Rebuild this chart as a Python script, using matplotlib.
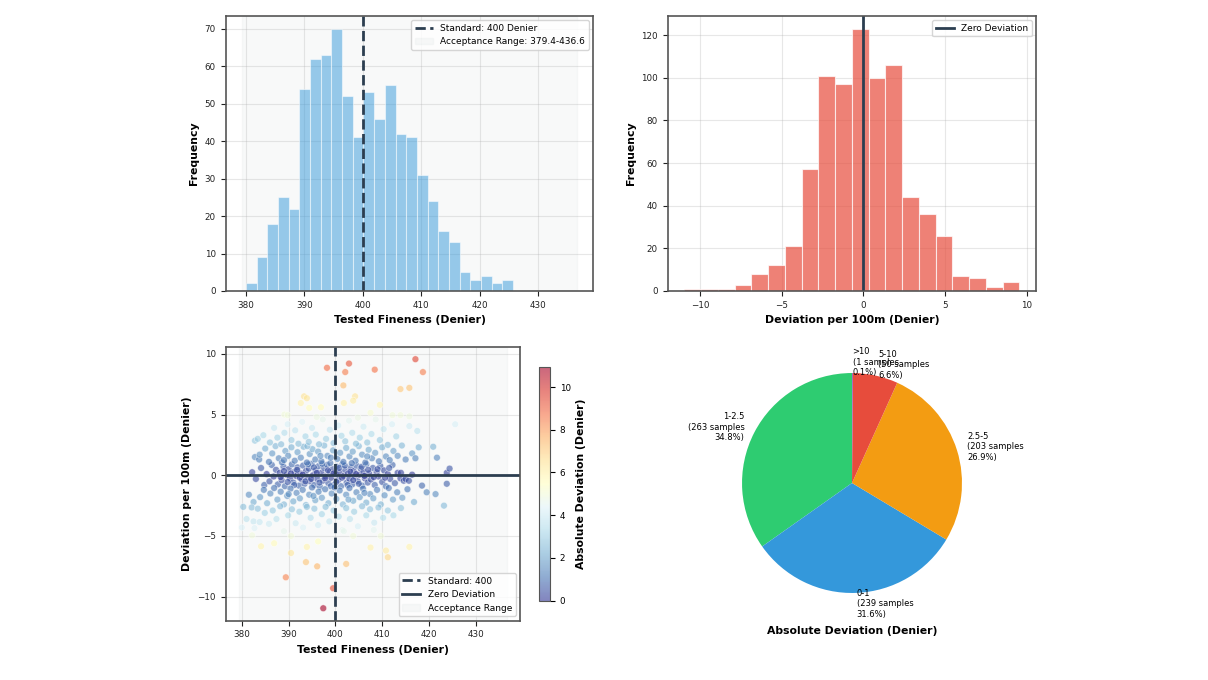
import numpy as np
import matplotlib
matplotlib.use("Agg")
import matplotlib.pyplot as plt

# ---- data ----
STANDARD = 400
ACCEPT_LO, ACCEPT_HI = 379.4, 436.6

# tested fineness histogram (25 bins)
fineness_lo, fineness_hi = 380.0, 425.75
fineness_counts = [2, 9, 18, 25, 22, 54, 62, 63, 70, 52, 41, 53, 46, 55, 42,
                   41, 31, 24, 16, 13, 5, 3, 4, 2, 3]

# deviation per 100m histogram (20 bins)
dev_lo, dev_hi = -10.95, 9.55
dev_counts = [1, 1, 1, 3, 8, 12, 21, 57, 101, 97, 123, 100, 106, 44, 36,
              26, 7, 6, 2, 4]

# absolute deviation categories (value_counts order)
abs_labels = ["1-2.5", "0-1", "2.5-5", "5-10", ">10"]
abs_counts = [263, 239, 203, 50, 1]
abs_colors = ["#2ecc71", "#3498db", "#f39c12", "#e74c3c", "#9b59b6"]

# scatter: tested fineness vs deviation
core_pts = [
    (382.2, 0.25), (383.0, -0.3), (384.1, 0.6), (384.8, -0.8), (385.3, 0.1), (385.9, -0.5),
    (386.4, 0.85), (386.8, -0.1), (387.3, 0.45), (387.7, -0.75), (388.1, 0.2), (388.5, -0.4),
    (388.9, 0.7), (389.2, -0.9), (389.6, 0.05), (390.0, 0.5), (390.3, -0.25), (390.7, 0.9),
    (391.0, -0.6), (391.3, 0.3), (391.6, -0.05), (391.9, 0.65), (392.2, -0.85), (392.5, 0.15),
    (392.8, -0.35), (393.1, 0.8), (393.4, -0.7), (393.7, 0.35), (394.0, -0.15), (394.3, 0.55),
    (394.6, -0.5), (394.9, 0.95), (395.2, 0.0), (395.5, -0.8), (395.8, 0.4), (396.1, -0.3),
    (396.4, 0.75), (396.7, -0.95), (397.0, 0.2), (397.3, -0.45), (397.6, 0.6), (397.9, -0.1),
    (398.2, 0.85), (398.5, -0.65), (398.8, 0.3), (399.1, -0.2), (399.4, 0.5), (399.7, -0.8),
    (400.0, 0.1), (400.3, 0.7), (400.6, -0.4), (400.9, 0.25), (401.2, -0.9), (401.5, 0.9),
    (401.8, -0.05), (402.1, 0.45), (402.4, -0.6), (402.7, 0.15), (403.0, -0.3), (403.3, 0.65),
    (403.6, -0.75), (403.9, 0.35), (404.2, -0.1), (404.5, 0.8), (404.8, -0.5), (405.1, 0.05),
    (405.4, 0.55), (405.7, -0.85), (406.0, 0.3), (406.3, -0.25), (406.6, 0.9), (406.9, -0.6),
    (407.2, 0.15), (407.6, -0.35), (408.0, 0.6), (408.4, -0.8), (408.8, 0.25), (409.2, -0.1),
    (409.6, 0.75), (410.0, -0.55), (410.4, 0.4), (410.8, -0.9), (411.2, 0.1), (411.7, -0.3),
    (412.2, 0.85), (412.7, -0.65), (413.3, 0.2), (414.0, 0.2), (413.9, -0.25), (414.6, -0.45),
    (415.0, -0.3), (415.7, -0.45), (416.4, 0.05), (418.5, -0.85), (423.8, 0.2), (424.4, 0.55),
    (423.8, -0.7), (388.3, -0.15), (389.0, 0.35), (389.8, -0.55), (390.5, 0.15), (391.2, -0.8),
    (391.8, 0.45), (392.4, -0.2), (393.0, 0.05), (393.6, -0.5), (394.2, 0.9), (394.8, -0.3),
    (395.4, 0.65), (396.0, 0.2), (396.6, -0.6), (397.2, 0.95), (397.8, -0.25), (398.4, 0.4),
    (399.0, -0.9), (399.6, 0.15), (400.2, -0.55), (400.8, 0.6), (401.4, -0.2), (402.0, 0.8),
    (402.6, -0.8), (403.2, 0.3), (403.8, -0.4), (404.4, 0.1), (405.0, -0.7), (405.6, 0.7),
    (406.2, -0.05), (407.0, 0.45), (408.2, -0.15), (409.0, 0.5), (410.6, -0.2), (411.5, 0.6),
]
mid_pts = [
    (382.8, 1.5), (383.7, 1.3), (383.8, 1.7), (385.0, 2.2), (385.8, 1.1), (386.5, 1.8),
    (387.2, 2.4), (387.9, 1.4), (388.6, 1.05), (389.3, 2.0), (389.9, 1.6), (390.6, 2.3),
    (391.3, 1.2), (391.9, 1.9), (392.6, 1.45), (393.2, 2.35), (393.9, 1.05), (394.5, 1.75),
    (395.1, 2.15), (395.7, 1.3), (396.3, 1.95), (397.0, 1.15), (397.6, 2.45), (398.3, 1.6),
    (398.9, 1.0), (399.5, 2.05), (400.4, 1.35), (401.0, 1.85), (401.7, 1.1), (402.3, 2.25),
    (403.0, 1.55), (403.7, 1.95), (404.3, 1.2), (405.0, 2.4), (405.7, 1.7), (406.4, 1.05),
    (407.1, 2.1), (407.8, 1.4), (408.5, 1.85), (409.3, 1.15), (410.0, 2.3), (410.8, 1.55),
    (411.6, 1.25), (412.4, 2.0), (413.3, 1.6), (414.2, 2.45), (415.0, 1.3), (416.4, 1.8),
    (417.1, 1.4), (417.8, 2.3), (420.9, 2.35), (421.7, 1.45), (389.0, 1.25), (394.0, 2.4),
    (399.0, 1.45), (403.5, 1.0), (406.8, 1.55), (396.8, 1.6),
    (381.5, -1.6), (382.5, -2.2), (383.9, -1.8), (384.7, -1.2), (385.4, -2.3), (386.1, -1.5),
    (386.9, -1.05), (387.6, -2.0), (388.3, -1.35), (389.0, -2.4), (389.7, -1.7), (390.4, -1.1),
    (391.0, -2.15), (391.7, -1.45), (392.4, -1.9), (393.0, -1.2), (393.7, -2.45), (394.4, -1.6),
    (395.0, -1.0), (395.7, -2.05), (396.4, -1.35), (397.1, -1.85), (397.8, -1.15), (398.5, -2.3),
    (399.2, -1.5), (400.2, -1.95), (400.9, -1.25), (401.6, -2.4), (402.3, -1.6), (403.0, -1.05),
    (403.8, -2.1), (404.5, -1.4), (405.2, -1.8), (405.9, -1.1), (406.6, -2.25), (407.4, -1.55),
    (408.1, -1.9), (408.9, -1.2), (409.7, -2.4), (410.5, -1.65), (411.4, -1.05), (412.3, -2.0),
    (413.2, -1.4), (414.3, -1.85), (415.4, -1.15), (416.8, -2.2), (419.5, -1.4), (421.4, -1.55),
    (390.0, -1.55), (395.3, -1.7), (399.8, -1.0), (402.8, -2.0), (406.2, -1.45),
]
outer_pts = [
    (382.8, 2.85), (383.4, 3.0), (384.6, 3.3), (386.0, 2.7), (386.9, 3.9), (387.6, 3.1),
    (388.4, 2.55), (389.1, 3.5), (389.8, 4.2), (390.6, 2.9), (391.4, 3.7), (392.1, 2.6),
    (392.9, 4.4), (393.6, 3.2), (394.3, 2.75), (395.0, 3.9), (395.8, 3.35), (396.5, 2.55),
    (397.3, 4.6), (398.0, 3.0), (398.8, 3.75), (399.6, 2.65), (400.6, 4.1), (401.3, 3.25),
    (402.1, 2.8), (402.9, 4.5), (403.6, 3.5), (404.4, 2.6), (405.2, 3.1), (406.0, 4.0),
    (406.8, 2.7), (407.7, 3.4), (408.6, 4.6), (409.5, 2.9), (410.3, 3.8), (411.2, 2.5),
    (412.1, 4.2), (413.0, 3.2), (413.9, 4.95), (415.8, 4.05), (415.8, 4.85), (417.5, 3.65),
    (412.2, 4.95), (425.6, 4.2), (389.1, 5.0), (389.8, 4.95), (396.0, 4.8), (404.8, 4.75),
    (380.3, -2.6), (382.1, -2.65), (383.4, -2.75), (382.5, -3.8), (383.8, -3.85), (381.0, -3.6),
    (380.0, -4.3), (382.7, -4.35), (384.9, -3.1), (385.8, -4.0), (386.6, -2.9), (387.4, -3.6),
    (388.2, -2.55), (389.0, -4.6), (389.9, -3.3), (390.7, -2.8), (391.5, -3.95), (392.3, -3.0),
    (393.1, -4.3), (393.9, -2.6), (394.7, -3.5), (395.5, -2.75), (396.3, -4.1), (397.1, -3.2),
    (397.9, -2.6), (398.7, -3.8), (399.6, -2.9), (400.7, -3.4), (401.5, -4.5), (402.3, -2.7),
    (403.1, -3.6), (404.0, -3.0), (404.8, -4.2), (405.7, -2.55), (406.6, -3.3), (407.4, -2.8),
    (408.3, -3.9), (409.2, -2.65), (410.2, -3.5), (411.2, -2.9), (412.4, -3.3), (414.0, -2.7),
    (423.2, -2.5), (382.2, -4.95), (390.5, -5.0), (401.8, -4.6), (408.2, -4.5),
]
extreme_pts = [
    (417.1, 9.56), (418.7, 8.5), (402.9, 9.2), (402.1, 8.5), (398.2, 8.85), (408.4, 8.7),
    (401.7, 7.4), (413.9, 7.1), (415.8, 7.2), (393.3, 6.5), (393.9, 6.35), (404.2, 6.5),
    (403.8, 6.15), (392.6, 5.95), (401.8, 5.95), (394.4, 5.55), (396.9, 5.6), (409.5, 5.8),
    (407.5, 5.15),
    (397.4, -10.95), (399.5, -9.3), (389.4, -8.4), (393.7, -7.15), (396.1, -7.5), (402.3, -7.3),
    (390.5, -6.4), (384.1, -5.85), (393.9, -5.9), (407.5, -5.95), (410.8, -6.2), (411.2, -6.75),
    (415.8, -5.9), (396.3, -5.45), (386.9, -5.6), (403.8, -5.0), (409.7, -5.0),
]

TICK_FS = 6.3
LABEL_FS = 7.8
LEGEND_FS = 6.5


def style_axes(ax):
    ax.grid(True, alpha=0.3)
    ax.set_axisbelow(True)
    for sp in ax.spines.values():
        sp.set_color("#555555")
        sp.set_linewidth(1.2)
    ax.tick_params(labelsize=TICK_FS, colors="#222222")


def main():
    fig = plt.figure(figsize=(12.08, 6.8), dpi=100)

    # fineness histogram
    ax1 = fig.add_axes([0.1868, 0.5721, 0.3043, 0.4049])
    edges = np.linspace(fineness_lo, fineness_hi, len(fineness_counts) + 1)
    ax1.axvspan(ACCEPT_LO, ACCEPT_HI, color="#95a5a6", alpha=0.06,
                label=f"Acceptance Range: {ACCEPT_LO}-{ACCEPT_HI}")
    ax1.hist(edges[:-1], bins=edges, weights=fineness_counts, color="#3498db",
             alpha=0.5, edgecolor="white", linewidth=0.8)
    ax1.axvline(STANDARD, color="#2c3e50", linestyle="--", linewidth=2,
                label=f"Standard: {STANDARD} Denier")
    ax1.set_xlabel("Tested Fineness (Denier)", fontsize=LABEL_FS, fontweight="bold")
    ax1.set_ylabel("Frequency", fontsize=LABEL_FS, fontweight="bold")
    h, l = ax1.get_legend_handles_labels()
    ax1.legend(h[::-1], l[::-1], loc="upper right", fontsize=LEGEND_FS)
    style_axes(ax1)

    # deviation histogram
    ax2 = fig.add_axes([0.5527, 0.5721, 0.3051, 0.4049])
    edges = np.linspace(dev_lo, dev_hi, len(dev_counts) + 1)
    ax2.hist(edges[:-1], bins=edges, weights=dev_counts, color="#e74c3c",
             alpha=0.7, edgecolor="white", linewidth=0.8)
    ax2.axvline(0, color="#2c3e50", linewidth=2, label="Zero Deviation")
    ax2.set_xlabel("Deviation per 100m (Denier)", fontsize=LABEL_FS, fontweight="bold")
    ax2.set_ylabel("Frequency", fontsize=LABEL_FS, fontweight="bold")
    ax2.legend(loc="upper right", fontsize=LEGEND_FS)
    style_axes(ax2)

    # scatter
    pts = np.array(core_pts + mid_pts + outer_pts + extreme_pts)
    sx, sy = pts[:, 0], pts[:, 1]
    ax3 = fig.add_axes([0.1868, 0.0872, 0.2437, 0.4029])
    ax3.axvspan(ACCEPT_LO, ACCEPT_HI, color="#95a5a6", alpha=0.06, label="Acceptance Range")
    sc = ax3.scatter(sx, sy, c=np.abs(sy), cmap="RdYlBu_r", s=24, alpha=0.6,
                     edgecolors="white", linewidths=0.5)
    ax3.axvline(STANDARD, color="#2c3e50", linestyle="--", linewidth=2,
                label=f"Standard: {STANDARD}")
    ax3.axhline(0, color="#2c3e50", linewidth=2, label="Zero Deviation")
    ax3.set_xlabel("Tested Fineness (Denier)", fontsize=LABEL_FS, fontweight="bold")
    ax3.set_ylabel("Deviation per 100m (Denier)", fontsize=LABEL_FS, fontweight="bold")
    h, l = ax3.get_legend_handles_labels()
    ax3.legend([h[1], h[2], h[0]], [l[1], l[2], l[0]], loc="lower right", fontsize=LEGEND_FS)
    style_axes(ax3)

    cax = fig.add_axes([0.4462, 0.1166, 0.0091, 0.3441])
    cb = fig.colorbar(sc, cax=cax)
    cb.set_label("Absolute Deviation (Denier)", fontsize=LABEL_FS, fontweight="bold")
    cb.ax.tick_params(labelsize=TICK_FS)
    cb.outline.set_edgecolor("#555555")

    # pie of absolute deviation
    ax4 = fig.add_axes([0.5915, 0.0875, 0.2276, 0.4044])
    total = sum(abs_counts)
    pie_labels = [f"{lab}\n({n} samples\n{100 * n / total:.1f}%)"
                  for lab, n in zip(abs_labels, abs_counts)]
    ax4.pie(abs_counts, labels=pie_labels, colors=abs_colors, startangle=90,
            textprops={"fontsize": 6})
    ax4.set_xlabel("Absolute Deviation (Denier)", fontsize=LABEL_FS, fontweight="bold")

    plt.savefig("out.png", dpi=100)


if __name__ == "__main__":
    main()
